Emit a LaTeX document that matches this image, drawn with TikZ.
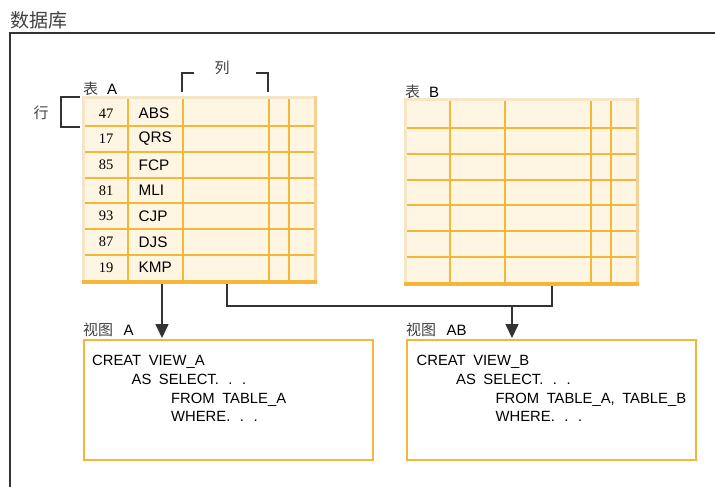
\documentclass[tikz,border=0pt]{standalone}
\usepackage{fontspec}
\setmainfont{Liberation Sans}
\newfontfamily\cjk{Noto Sans CJK SC}
\newfontfamily\numfont{Liberation Serif}
\usetikzlibrary{positioning,arrows.meta}
\definecolor{gridorange}{HTML}{F6B63A}
\definecolor{cellfill}{HTML}{FEF5E3}
\definecolor{bevellight}{HTML}{F5E6C8}
\definecolor{beveldark}{HTML}{F2D195}
\definecolor{inkgray}{HTML}{333333}
\newcommand\sqldots{.\hspace{9.5pt}.\hspace{9.5pt}.}
\newcommand\codefont{\fontsize{14.8}{18.7}\selectfont\spaceskip=7.5pt\relax}

\begin{document}
\begin{tikzpicture}
  [x=1pt,y=-1pt,
   lbl/.style={inner sep=0pt,font=\fontsize{15}{18}\selectfont},
   cjklbl/.style={inner sep=0pt,text=black!75,font=\cjk\fontsize{15}{18}\selectfont},
   numcell/.style={inner sep=0pt,font=\numfont\fontsize{14.5}{17}\selectfont},
   namecell/.style={inner sep=0pt,anchor=west,font=\fontsize{15.3}{18}\selectfont},
   tablebox/.style={inner sep=0pt,fill=bevellight,minimum width=235pt,minimum height=188pt,anchor=north west},
   gridline/.style={gridorange,line width=2pt},
   viewbox/.style={draw=gridorange,line width=1.8pt,inner sep=0pt,minimum width=289pt,minimum height=120pt,anchor=north west},
   code/.style={inner sep=0pt,anchor=north west,align=left,font=\codefont},
   bracket/.style={inkgray,line width=2pt},
   wire/.style={inkgray,line width=1.6pt},
   arr/.style={wire,-{Triangle[length=14pt,width=13pt]},shorten >=1pt}]
  \useasboundingbox (0,0) rectangle (715,487);

  % database frame
  \node[cjklbl,anchor=west,font=\cjk\fontsize{19}{22}\selectfont] (ldb) at (10,20) {数据库};
  \draw[inkgray,line width=2pt] (10,487) -- (10,33) -- (715,33);

  % the two tables
  \foreach \tn/\tx/\ty in {A/82/96,B/404/98} {
    \begin{scope}[shift={(\tx,\ty)}]
      \node[tablebox] (tab\tn) at (0,0) {};
      \fill[beveldark] (232,0) -- (235,0) -- (235,188) -- (232,185) -- cycle;
      \fill[gridorange] (0,184) rectangle (235,188);
      \fill[cellfill] (3,3) rectangle (232,184);
      \foreach \r in {1,...,6}
        \draw[gridline] (3,4.5+25.7*\r) -- (232,4.5+25.7*\r);
      \foreach \c in {46,101,187,207}
        \draw[gridline] (\c,3) -- (\c,184);
      \node[lbl,anchor=base west] (lt\tn) at (1,-1) {{\cjk\color{black!75}表}\hspace{0.6em}\tn};
    \end{scope}
  }

  % rows of table A
  \foreach \n/\s [count=\i] in {47/ABS,17/QRS,85/FCP,81/MLI,93/CJP,87/DJS,19/KMP} {
    \node[numcell] (num\i) at (106,87.65+25.7*\i) {\n};
    \node[namecell] (name\i) at (138.5,87.65+25.7*\i) {\s};
  }

  % row and column brackets
  \node[cjklbl] (lrow) at (41,113) {行};
  \draw[bracket] (80,97) -- (61,97) -- (61,127) -- (80,127);
  \node[cjklbl] (lcol) at (222,68) {列};
  \draw[bracket] (194,73) -- (182,73) -- (182,92);
  \draw[bracket] (256,73) -- (268,73) -- (268,92);

  % views
  \node[viewbox] (viewA) at (83,339) {};
  \node[viewbox] (viewB) at (406,339) {};
  \node[lbl,anchor=base west] (lvA) at (83,335) {{\cjk\color{black!75}视图}\hspace{0.7em}A};
  \node[lbl,anchor=base west] (lvB) at (406,335) {{\cjk\color{black!75}视图}\hspace{0.7em}AB};

  \node[code] (codeA) at (92,355.3) {CREAT VIEW\_A\\
    \hspace*{39.5pt}AS SELECT\sqldots\\
    \hspace*{79pt}FROM TABLE\_A\\
    \hspace*{79pt}WHERE\sqldots};
  \node[code] (codeB) at (416.5,355.3) {CREAT VIEW\_B\\
    \hspace*{39.5pt}AS SELECT\sqldots\\
    \hspace*{79pt}FROM TABLE\_A, TABLE\_B\\
    \hspace*{79pt}WHERE\sqldots};

  % connectors
  \coordinate (xA) at (162,0);
  \coordinate (jL) at (227,306);
  \coordinate (jM) at (512,306);
  \coordinate (jR) at (552,306);
  \draw[arr] (tabA.south -| xA) -- (viewA.north -| xA);
  \draw[wire] (tabA.south -| jL) -- (jL) -- (jR) -- (tabB.south -| jR);
  \draw[arr] (jM) -- (viewB.north -| jM);

\end{tikzpicture}
\end{document}
